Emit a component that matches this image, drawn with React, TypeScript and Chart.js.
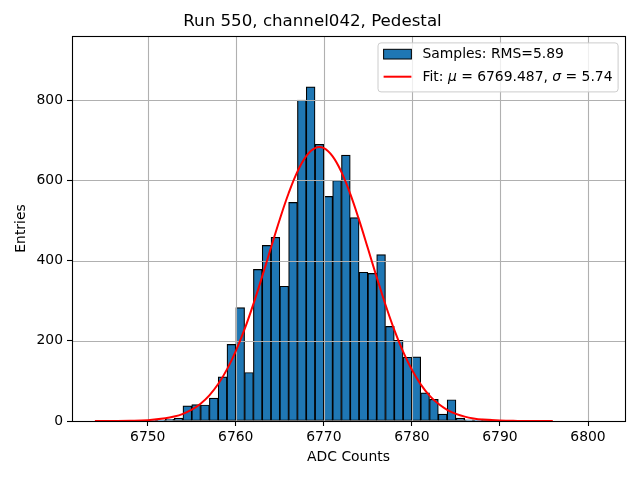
import React, { useEffect, useRef } from 'react'
import { Chart, registerables } from 'chart.js'
Chart.register(...registerables)

// histogram: left edge of each 1-count-wide bin and its entries
const binStart = [6750, 6751, 6752, 6753, 6754, 6755, 6756, 6757, 6758, 6759,
  6760, 6761, 6762, 6763, 6764, 6765, 6766, 6767, 6768, 6769,
  6770, 6771, 6772, 6773, 6774, 6775, 6776, 6777, 6778, 6779,
  6780, 6781, 6782, 6783, 6784, 6785, 6786, 6787, 6788]
const counts = [1, 2, 4, 7, 38, 41, 40, 57, 110, 191,
  283, 121, 378, 438, 458, 336, 545, 800, 833, 690,
  560, 600, 663, 507, 371, 368, 415, 236, 201, 159,
  160, 70, 54, 17, 53, 7, 3, 2, 5]

// gaussian fit curve
const fitX = [6744, 6746, 6748, 6750, 6752, 6753, 6754, 6755, 6756, 6757, 6758, 6759,
  6760, 6761, 6762, 6763, 6764, 6765, 6766, 6767, 6768, 6769, 6770, 6771, 6772,
  6773, 6774, 6775, 6776, 6777, 6778, 6779, 6780, 6781, 6782, 6783, 6784, 6785,
  6786, 6787, 6788, 6790, 6792, 6794, 6796]
const fitY = [0.04, 0.16, 0.6, 2.1, 6.6, 11, 17.9, 28.3, 43.2, 64.1, 92.2, 128.7,
  174.3, 228.9, 291.8, 360.6, 432.5, 503.2, 567.9, 621.8, 660.5, 680.5, 680.3, 659.7, 620.6,
  566.3, 501.4, 430.6, 358.8, 290, 227.4, 172.9, 127.6, 91.4, 63.4, 42.8, 27.9, 17.7,
  10.9, 6.5, 3.8, 1.15, 0.31, 0.07, 0.01]

const xTicks = [6750, 6760, 6770, 6780, 6790, 6800]
const yTicks = [0, 200, 400, 600, 800]

const title = 'Run 550, channel042, Pedestal'
const sampleLabel = 'Samples: RMS=5.89'
const fitMu = '6769.487'
const fitSigma = '5.74'

const FAM = '"DejaVu Sans", sans-serif'
const FS = 13.9

const mplPlugin = {
  id: 'mpl',
  // grid over the bars but under the fit line, like matplotlib
  afterDatasetDraw(chart: any, args: any) {
    if (args.index !== 0) return
    const { ctx, chartArea: a, scales } = chart
    ctx.save()
    ctx.strokeStyle = '#b0b0b0'
    ctx.lineWidth = 1.1
    ctx.beginPath()
    scales.x.ticks.forEach((t: any) => {
      const px = Math.round(scales.x.getPixelForValue(t.value)) + 0.5
      ctx.moveTo(px, a.top); ctx.lineTo(px, a.bottom)
    })
    scales.y.ticks.forEach((t: any) => {
      const py = Math.round(scales.y.getPixelForValue(t.value)) + 0.5
      ctx.moveTo(a.left, py); ctx.lineTo(a.right, py)
    })
    ctx.stroke()
    ctx.restore()
  },
  afterDraw(chart: any) {
    const { ctx, chartArea: a } = chart
    ctx.save()
    // frame
    ctx.strokeStyle = '#000'
    ctx.lineWidth = 1.1
    ctx.strokeRect(Math.round(a.left) + 0.5, Math.round(a.top) + 0.5, Math.round(a.right - a.left), Math.round(a.bottom - a.top))

    // legend
    const font = `${FS}px ${FAM}`
    const ital = `italic ${FS}px ${FAM}`
    const parts: [string, string][] = [['Fit: ', font], ['\u03bc', ital], [' = ' + fitMu + ', ', font], ['\u03c3', ital], [' = ' + fitSigma, font]]
    ctx.font = font
    const w1 = ctx.measureText(sampleLabel).width
    let w2 = 0
    parts.forEach(([s, f]) => { ctx.font = f; w2 += ctx.measureText(s).width })
    const pad = 5.6, handle = 27.8, gap = 11.1
    const right = a.right - 6.9
    const top = a.top + 6.9
    const width = pad + handle + gap + Math.max(w1, w2) + pad
    const left = right - width
    const height = 49
    ctx.beginPath()
    ctx.roundRect(left, top, width, height, 3)
    ctx.fillStyle = 'rgba(255,255,255,0.8)'
    ctx.fill()
    ctx.strokeStyle = '#cccccc'
    ctx.lineWidth = 1
    ctx.stroke()

    const hx = left + pad
    ctx.fillStyle = '#1f77b4'
    ctx.fillRect(hx, top + 6.4, handle, 9.7)
    ctx.strokeStyle = '#000'
    ctx.lineWidth = 1
    ctx.strokeRect(hx, top + 6.4, handle, 9.7)

    ctx.strokeStyle = '#ff0000'
    ctx.lineWidth = 2
    ctx.beginPath()
    ctx.moveTo(hx, top + 33.8); ctx.lineTo(hx + handle, top + 33.8)
    ctx.stroke()

    ctx.fillStyle = '#000'
    ctx.textBaseline = 'alphabetic'
    ctx.textAlign = 'left'
    const tx = hx + handle + gap
    ctx.font = font
    ctx.fillText(sampleLabel, tx, top + 15.4)
    let cx = tx
    parts.forEach(([s, f]) => {
      ctx.font = f
      ctx.fillText(s, cx, top + 38.4)
      cx += ctx.measureText(s).width
    })
    ctx.restore()
  },
}

const App: React.FC = () => {
  const ref = useRef<HTMLCanvasElement | null>(null)
  useEffect(() => {
    document.body.style.margin = '0'
    if (!ref.current) return
    const ctx = ref.current.getContext('2d')!
    const tickFont = { family: FAM, size: FS }
    const chart = new Chart(ctx, {
      type: 'bar',
      data: {
        datasets: [
          {
            type: 'bar',
            label: sampleLabel,
            data: binStart.map((b, i) => ({ x: b + 0.5, y: counts[i] })),
            backgroundColor: '#1f77b4',
            borderColor: '#000',
            borderWidth: 1.2,
            borderSkipped: false,
            barPercentage: 1,
            categoryPercentage: 1,
            order: 1,
          } as any,
          {
            type: 'line',
            label: 'Fit',
            data: fitX.map((x, i) => ({ x, y: fitY[i] })),
            borderColor: '#ff0000',
            borderWidth: 2,
            pointRadius: 0,
            tension: 0.4,
            fill: false,
            order: 0,
          } as any,
        ],
      },
      options: {
        animation: false,
        responsive: false,
        layout: { padding: { left: 0, right: 15, top: 0, bottom: 0 } },
        plugins: {
          legend: { display: false },
          tooltip: { enabled: false },
          title: {
            display: true,
            text: title,
            color: '#000',
            font: { family: FAM, size: 16.67, weight: 'normal' },
            padding: { top: 12, bottom: 4 },
          },
        },
        scales: {
          x: {
            type: 'linear',
            min: 6741.4,
            max: 6804.2,
            offset: false,
            grid: { offset: false, drawOnChartArea: false, tickColor: '#000', tickLength: 5, tickWidth: 1.1 },
            border: { display: false },
            ticks: {
              autoSkip: false,
              maxRotation: 0,
              color: '#000',
              font: tickFont,
              padding: 3,
              callback: (v: any) => String(v),
            },
            afterBuildTicks: (s: any) => { s.ticks = xTicks.map((v) => ({ value: v })) },
            title: { display: true, text: 'ADC Counts', color: '#000', font: tickFont, padding: { top: 0, bottom: 14 } },
            afterFit: (s: any) => { s.height = 59 },
          },
          y: {
            type: 'linear',
            min: 0,
            max: 960,
            grid: { drawOnChartArea: false, tickColor: '#000', tickLength: 5, tickWidth: 1.1 },
            border: { display: false },
            ticks: {
              autoSkip: false,
              color: '#000',
              font: tickFont,
              padding: 4,
              callback: (v: any) => String(v),
            },
            afterBuildTicks: (s: any) => { s.ticks = yTicks.map((v) => ({ value: v })) },
            title: { display: true, text: 'Entries', color: '#000', font: tickFont, padding: { top: 13, bottom: 0 } },
            afterFit: (s: any) => { s.width = 72 },
          },
        },
      } as any,
      plugins: [mplPlugin],
    })
    return () => chart.destroy()
  }, [])
  return (
    <div style={{ width: 640, height: 480 }}>
      <canvas ref={ref} width={640} height={480} />
    </div>
  )
}

export default App
